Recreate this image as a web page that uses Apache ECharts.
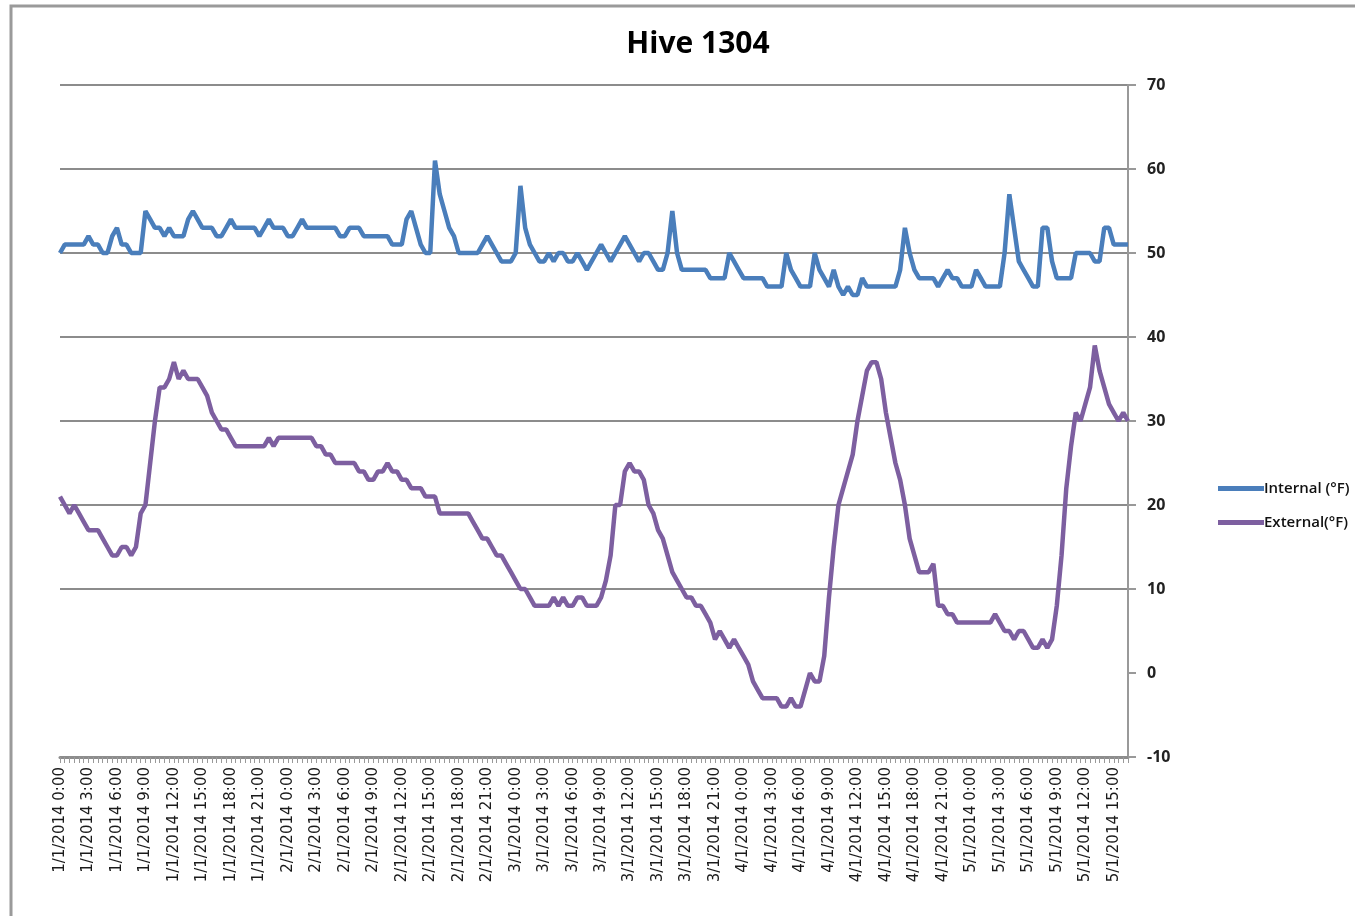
<!DOCTYPE html>
<html>
<head>
<meta charset="utf-8">
<title>Hive 1304</title>
<script src="https://cdn.jsdelivr.net/npm/echarts@6/dist/echarts.min.js"></script>
<style>
  html, body { margin: 0; padding: 0; background: #fff; }
  #chart { width: 1355px; height: 916px; }
</style>
</head>
<body>
<div id="chart"></div>
<script>
// readings every 30 minutes, 1/1/2014 0:00 .. 5/1/2014 16:30
const days = ['1/1/2014', '2/1/2014', '3/1/2014', '4/1/2014', '5/1/2014']
const lastDaySlots = 34

// Internal (°F)
const internal = [
  // 1/1
  50, 51, 51, 51, 51, 51, 52, 51, 51, 50, 50, 52, 53, 51, 51, 50, 50, 50, 55, 54, 53, 53, 52, 53,
  52, 52, 52, 54, 55, 54, 53, 53, 53, 52, 52, 53, 54, 53, 53, 53, 53, 53, 52, 53, 54, 53, 53, 53,
  // 2/1
  52, 52, 53, 54, 53, 53, 53, 53, 53, 53, 53, 52, 52, 53, 53, 53, 52, 52, 52, 52, 52, 52, 51, 51,
  51, 54, 55, 53, 51, 50, 50, 61, 57, 55, 53, 52, 50, 50, 50, 50, 50, 51, 52, 51, 50, 49, 49, 49,
  // 3/1
  50, 58, 53, 51, 50, 49, 49, 50, 49, 50, 50, 49, 49, 50, 49, 48, 49, 50, 51, 50, 49, 50, 51, 52,
  51, 50, 49, 50, 50, 49, 48, 48, 50, 55, 50, 48, 48, 48, 48, 48, 48, 47, 47, 47, 47, 50, 49, 48,
  // 4/1
  47, 47, 47, 47, 47, 46, 46, 46, 46, 50, 48, 47, 46, 46, 46, 50, 48, 47, 46, 48, 46, 45, 46, 45,
  45, 47, 46, 46, 46, 46, 46, 46, 46, 48, 53, 50, 48, 47, 47, 47, 47, 46, 47, 48, 47, 47, 46, 46,
  // 5/1
  46, 48, 47, 46, 46, 46, 46, 50, 57, 53, 49, 48, 47, 46, 46, 53, 53, 49, 47, 47, 47, 47, 50, 50,
  50, 50, 49, 49, 53, 53, 51, 51, 51, 51,
]

// External(°F)
const external = [
  // 1/1
  21, 20, 19, 20, 19, 18, 17, 17, 17, 16, 15, 14, 14, 15, 15, 14, 15, 19, 20, 25, 30, 34, 34, 35,
  37, 35, 36, 35, 35, 35, 34, 33, 31, 30, 29, 29, 28, 27, 27, 27, 27, 27, 27, 27, 28, 27, 28, 28,
  // 2/1
  28, 28, 28, 28, 28, 28, 27, 27, 26, 26, 25, 25, 25, 25, 25, 24, 24, 23, 23, 24, 24, 25, 24, 24,
  23, 23, 22, 22, 22, 21, 21, 21, 19, 19, 19, 19, 19, 19, 19, 18, 17, 16, 16, 15, 14, 14, 13, 12,
  // 3/1
  11, 10, 10, 9, 8, 8, 8, 8, 9, 8, 9, 8, 8, 9, 9, 8, 8, 8, 9, 11, 14, 20, 20, 24,
  25, 24, 24, 23, 20, 19, 17, 16, 14, 12, 11, 10, 9, 9, 8, 8, 7, 6, 4, 5, 4, 3, 4, 3,
  // 4/1
  2, 1, -1, -2, -3, -3, -3, -3, -4, -4, -3, -4, -4, -2, 0, -1, -1, 2, 9, 15, 20, 22, 24, 26,
  30, 33, 36, 37, 37, 35, 31, 28, 25, 23, 20, 16, 14, 12, 12, 12, 13, 8, 8, 7, 7, 6, 6, 6,
  // 5/1
  6, 6, 6, 6, 6, 7, 6, 5, 5, 4, 5, 5, 4, 3, 3, 4, 3, 4, 8, 14, 22, 27, 31, 30,
  32, 34, 39, 36, 34, 32, 31, 30, 31, 30,
]

const seriesNames = ['Internal (°F)', 'External(°F)']
const seriesColors = ['#4a7ebb', '#7d5fa0']

// category labels like "1/1/2014 0:00", "1/1/2014 0:30"
const categories = []
days.forEach((day, d) => {
  const slots = d === days.length - 1 ? lastDaySlots : 48
  for (let s = 0; s < slots; s++) {
    const h = Math.floor(s / 2)
    const m = s % 2 ? '30' : '00'
    categories.push(`${day} ${h}:${m}`)
  }
})

const chart = echarts.init(document.getElementById('chart'))

const gridColor = '#8c8c8c'
// hide the gridline at 0, the other ones are drawn (-10 .. 70)
const splitColors = [gridColor, 'rgba(0,0,0,0)', gridColor, gridColor, gridColor,
  gridColor, gridColor, gridColor, gridColor]

const option = {
  backgroundColor: '#fff',
  animation: false,
  title: {
    text: 'Hive 1304',
    left: 693,
    top: 24,
    textAlign: 'center',
    textStyle: {
      fontFamily: 'Open Sans',
      fontSize: 30,
      fontWeight: 'bold',
      color: '#000',
    },
  },
  legend: {
    orient: 'vertical',
    left: 1213,
    top: 476,
    icon: 'rect',
    itemWidth: 46,
    itemHeight: 5,
    itemGap: 19,
    data: seriesNames,
    textStyle: {
      fontFamily: 'Open Sans',
      fontSize: 15,
      fontWeight: 600,
      color: '#111',
      padding: [0, 0, 0, -5],
    },
  },
  grid: {
    left: 60,
    right: 227,
    top: 85,
    bottom: 159,
    containLabel: false,
    outerBoundsMode: 'none',
  },
  xAxis: {
    type: 'category',
    data: categories,
    boundaryGap: false,
    axisLine: {
      onZero: false,
      lineStyle: { color: '#8c8c8c', width: 3 },
    },
    axisTick: {
      interval: 0,
      length: 6,
      lineStyle: { color: '#999', width: 1 },
    },
    axisLabel: {
      interval: 5,
      rotate: 90,
      margin: 10,
      fontFamily: 'DejaVu Sans',
      fontSize: 15,
      color: '#1a1a1a',
    },
    splitLine: { show: false },
  },
  yAxis: {
    type: 'value',
    position: 'right',
    min: -10,
    max: 70,
    interval: 10,
    axisLine: {
      show: true,
      lineStyle: { color: '#999', width: 2 },
    },
    axisTick: {
      show: true,
      length: 8,
      lineStyle: { color: '#999', width: 2 },
    },
    axisLabel: {
      margin: 19,
      fontFamily: 'Open Sans',
      fontSize: 16,
      fontWeight: 'bold',
      color: '#222',
    },
    splitLine: {
      show: true,
      lineStyle: { color: splitColors, width: 2 },
    },
  },
  graphic: [
    {
      type: 'rect',
      silent: true,
      shape: { x: 11, y: 6, width: 1400, height: 1000 },
      style: { fill: 'none', stroke: '#9a9a9a', lineWidth: 3 },
    },
  ],
  series: [
    {
      name: seriesNames[0],
      type: 'line',
      data: internal,
      symbol: 'none',
      color: seriesColors[0],
      lineStyle: { width: 4.5, color: seriesColors[0] },
      z: 3,
    },
    {
      name: seriesNames[1],
      type: 'line',
      data: external,
      symbol: 'none',
      color: seriesColors[1],
      lineStyle: { width: 4.5, color: seriesColors[1] },
      z: 3,
    },
  ],
}

chart.setOption(option)
</script>
</body>
</html>
